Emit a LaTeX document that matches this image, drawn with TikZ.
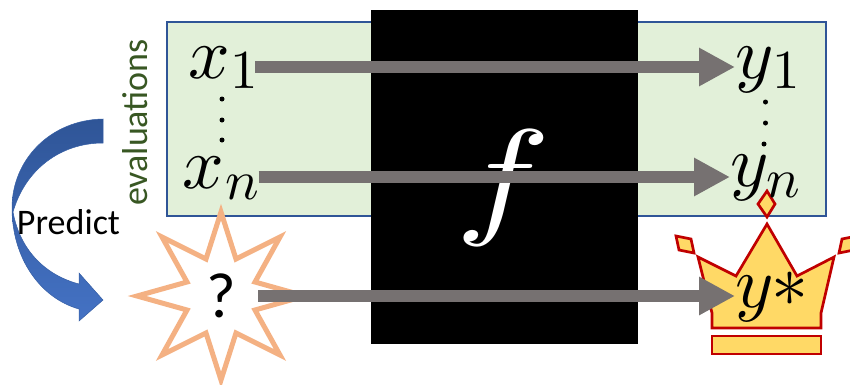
\documentclass[tikz,border=0pt]{standalone}
\usepackage{fontspec}
\setmainfont{Carlito}
\usepackage{amsmath}
\usetikzlibrary{arrows.meta}
\definecolor{boxfill}{HTML}{E2F0D9}
\definecolor{boxline}{HTML}{2F5597}
\definecolor{arrowgrey}{HTML}{767171}
\definecolor{evalgreen}{HTML}{385723}
\definecolor{starline}{HTML}{F4B183}
\definecolor{crownfill}{HTML}{FFD966}
\definecolor{crownline}{HTML}{C00000}
\definecolor{bluedark}{HTML}{2F5597}
\definecolor{bluelight}{HTML}{4472C4}
\tikzset{
  glyph/.style={anchor=base west,inner sep=0pt,outer sep=0pt,scale=#1},
  flow/.style={draw=arrowgrey,line width=12pt,-{Triangle[length=36pt,width=36pt,fill=arrowgrey]}},
  crownpart/.style={fill=crownfill,draw=crownline,line width=2.7pt,line join=miter},
  dotmark/.style={fill=black,circle,inner sep=0pt,minimum size=5pt},
}
\begin{document}
\begin{tikzpicture}[x=1pt,y=-1pt]
\useasboundingbox (0,0) rectangle (850,384);
% evaluation box and black box
\draw[fill=boxfill,draw=boxline,line width=1.5pt] (167,22) rectangle (826,216);
\fill[black] (371,10) rectangle (638,344);
\node[scale=13,xscale=1.23,inner sep=0pt,text=white] (f) at (503,188) {$f$};
% star
\draw[draw=starline,fill=white,line width=5pt,line join=miter,miter limit=10]
  (221,212) -- (236,259) -- (280,237) -- (255,282) -- (305,296) -- (255,310) -- (280,355) -- (236,333)
  -- (221,380) -- (206,333) -- (162,355) -- (187,310) -- (137,296) -- (187,282) -- (162,237) -- (206,259) -- cycle;
\node[inner sep=0pt,font=\fontsize{64}{70}\selectfont] (q) at (221,296) {?};
% curved arrow
\path[top color=bluedark,bottom color=bluelight,draw=bluedark!70!bluelight,line width=0.5pt]
  (103,119) .. controls (50,120) and (12,160) .. (12,208)
  .. controls (12,258) and (40,298) .. (79,309)
  -- (79,321) -- (103,300) -- (79,273) -- (79,284)
  .. controls (45,275) and (20,250) .. (13,212)
  .. controls (25,170) and (60,143) .. (103,143) -- cycle;
\node[inner sep=0pt,font=\fontsize{36}{40}\selectfont] (predict) at (68.5,222) {Predict};
\node[inner sep=0pt,rotate=90,text=evalgreen,font=\fontsize{36}{40}\selectfont] (evals) at (135,122.5) {evaluations};
% crown
\draw[crownpart] (767,224) -- (797,276) -- (834,257) -- (821,313) -- (821,328) -- (712,328) -- (712,313) -- (698,257) -- (736,276) -- cycle;
\draw[crownpart] (712,336) rectangle (821,354);
\draw[crownpart] (767,191) -- (775,204) -- (767,217) -- (758,204) -- cycle;
\draw[crownpart] (676,236) -- (691,239) -- (694,253) -- (679,250) -- cycle;
\draw[crownpart] (857,236) -- (842,239) -- (839,253) -- (854,250) -- cycle;
% labels
\node[glyph=7.3] (x1) at (188.5,78) {$x$};
\node[glyph=5.5] (s1) at (230,88) {$1$};
\node[glyph=7.3] (xn) at (182,188) {$x$};
\node[glyph=5.6] (sn) at (225,199) {$n$};
\node[glyph=7.3] (y1) at (735,78) {$y$};
\node[glyph=5.5] (t1) at (772,88) {$1$};
\node[glyph=7.3] (yn) at (730,186) {$y$};
\node[glyph=5.6] (tn) at (766,197) {$n$};
\node[glyph=7.3] (ystar) at (735,307) {$y$};
\node[glyph=7.4] (star) at (771.5,306) {$*$};
% dots
\foreach \n/\px/\py in {a/222/99,b/222/120,c/222/140,d/765.5/102,e/765.5/123,g/764/144}
  \node[dotmark] (dot\n) at (\px,\py) {};
% arrows
\coordinate (e1) at (735,67);
\coordinate (e2) at (730,177);
\coordinate (e3) at (735,296);
\draw[flow] ([xshift=-2.5pt]s1.east |- e1) -- (e1);
\draw[flow] (sn.east |- e2) -- (e2);
\draw[flow] (258,296) -- (e3);
\end{tikzpicture}
\end{document}
